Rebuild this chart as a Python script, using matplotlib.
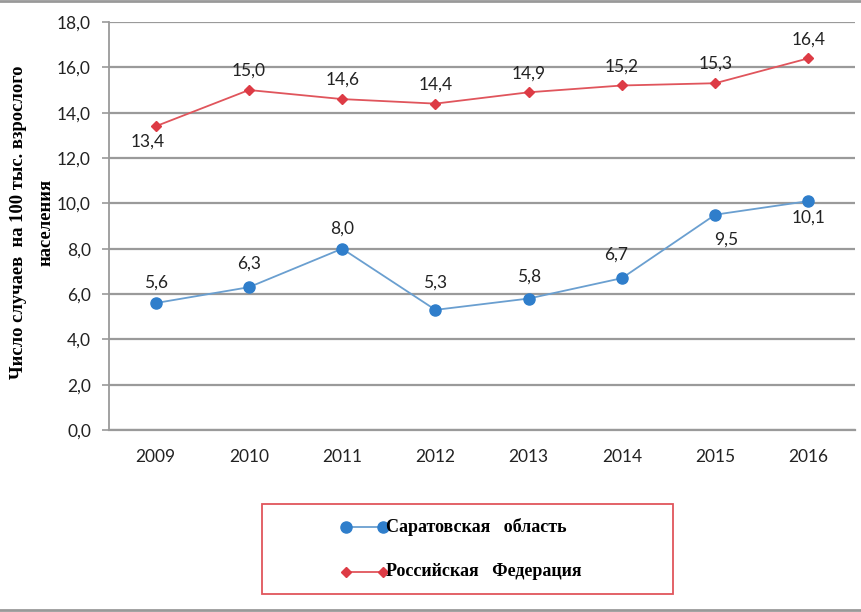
import matplotlib.pyplot as plt
from matplotlib.patches import Rectangle
from matplotlib.lines import Line2D

years = ['2009', '2010', '2011', '2012', '2013', '2014', '2015', '2016']
saratov = [5.6, 6.3, 8.0, 5.3, 5.8, 6.7, 9.5, 10.1]
russia = [13.4, 15.0, 14.6, 14.4, 14.9, 15.2, 15.3, 16.4]
saratov_label = 'Саратовская   область'
russia_label = 'Российская   Федерация'
ylabel_lines = ['Число случаев  на 100 тыс. взрослого', 'населения']

blue = '#2F7ECB'
blue_line = '#6A9FD0'
red = '#DD3B45'
red_line = '#E0555C'
grid_col = '#9A9A9A'

# label offsets in points (dx, dy), as placed in the original chart
sar_offsets = [(0, 9), (0, 11), (0, 9), (0, 14), (0, 10), (-4, 11), (8, -12), (0, -6)]
rus_offsets = [(-6, -5), (0, 8), (0, 8), (0, 8), (0, 8), (0, 8), (0, 8), (0, 8)]

def fmt(v):
    return f'{v:.1f}'.replace('.', ',')

fig = plt.figure(figsize=(8.62, 6.12), dpi=100)
ax = fig.add_axes([0.1265, 0.2974, 0.8655, 0.6666])

x = list(range(len(years)))
ax.plot(x, saratov, color=blue_line, lw=1.3, marker='o', ms=8,
        mfc=blue, mec=blue, zorder=3)
ax.plot(x, russia, color=red_line, lw=1.3, marker='D', ms=5.5,
        mfc=red, mec=red, zorder=3)

# data labels
for vals, offs in [(saratov, sar_offsets), (russia, rus_offsets)]:
    for i, v in enumerate(vals):
        dx, dy = offs[i]
        ax.annotate(fmt(v), (i, v), xytext=(dx, dy), textcoords='offset points',
                    ha='center', va='bottom' if dy > 0 else 'top',
                    fontsize=12.5, family='Lato', color='#222222')

ax.set_xlim(-0.5, len(years) - 0.5)
ax.set_ylim(0, 18)
ax.set_yticks([i * 2 for i in range(10)])
ax.set_yticklabels([fmt(i * 2) for i in range(10)])
ax.set_xticks(x)
ax.set_xticklabels(years)
ax.tick_params(axis='x', length=0, pad=14, labelsize=12.5, labelcolor='#222222')
ax.tick_params(axis='y', length=5, width=1.2, color=grid_col, pad=8,
               labelsize=12.5, labelcolor='#222222')
for lab in ax.get_xticklabels() + ax.get_yticklabels():
    lab.set_family('Lato')

ax.grid(axis='y', color=grid_col, lw=1.6)
ax.set_axisbelow(True)
for s in ['top', 'right']:
    ax.spines[s].set_visible(False)
ax.spines['left'].set_color(grid_col)
ax.spines['left'].set_linewidth(1.3)
ax.spines['bottom'].set_color(grid_col)
ax.spines['bottom'].set_linewidth(1.6)

# y label (two lines)
fig.text(0.022, 0.637, ylabel_lines[0], rotation=90, ha='center', va='center',
         family='Liberation Serif', fontweight='bold', fontsize=13.3)
fig.text(0.053, 0.637, ylabel_lines[1], rotation=90, ha='center', va='center',
         family='Liberation Serif', fontweight='bold', fontsize=13.3)

# legend box
fig.patches.append(Rectangle((262 / 862, 1 - 594 / 612), 411 / 862, 90 / 612,
                             transform=fig.transFigure, fill=False,
                             edgecolor='#E0555C', lw=1.3))
leg_items = [(saratov_label, blue, blue_line, 'o', 8, 1 - 527 / 612),
             (russia_label, red, red_line, 'D', 5.5, 1 - 572 / 612)]
for text, mc, lc, mk, ms, yy in leg_items:
    fig.add_artist(Line2D([346 / 862, 383 / 862], [yy, yy], color=lc, lw=1.3,
                          transform=fig.transFigure))
    fig.add_artist(Line2D([346 / 862, 383 / 862], [yy, yy], ls='none',
                          marker=mk, ms=ms, mfc=mc, mec=mc,
                          transform=fig.transFigure))
    fig.text(386 / 862, yy, text, ha='left', va='center',
             family='Liberation Serif', fontweight='bold', fontsize=13)

# outer frame lines
fig.add_artist(Line2D([0, 1], [0.998, 0.998], color='#999999', lw=2,
                      transform=fig.transFigure))
fig.add_artist(Line2D([0, 1], [0.003, 0.003], color='#999999', lw=2,
                      transform=fig.transFigure))

fig.savefig('out.png', dpi=100)
